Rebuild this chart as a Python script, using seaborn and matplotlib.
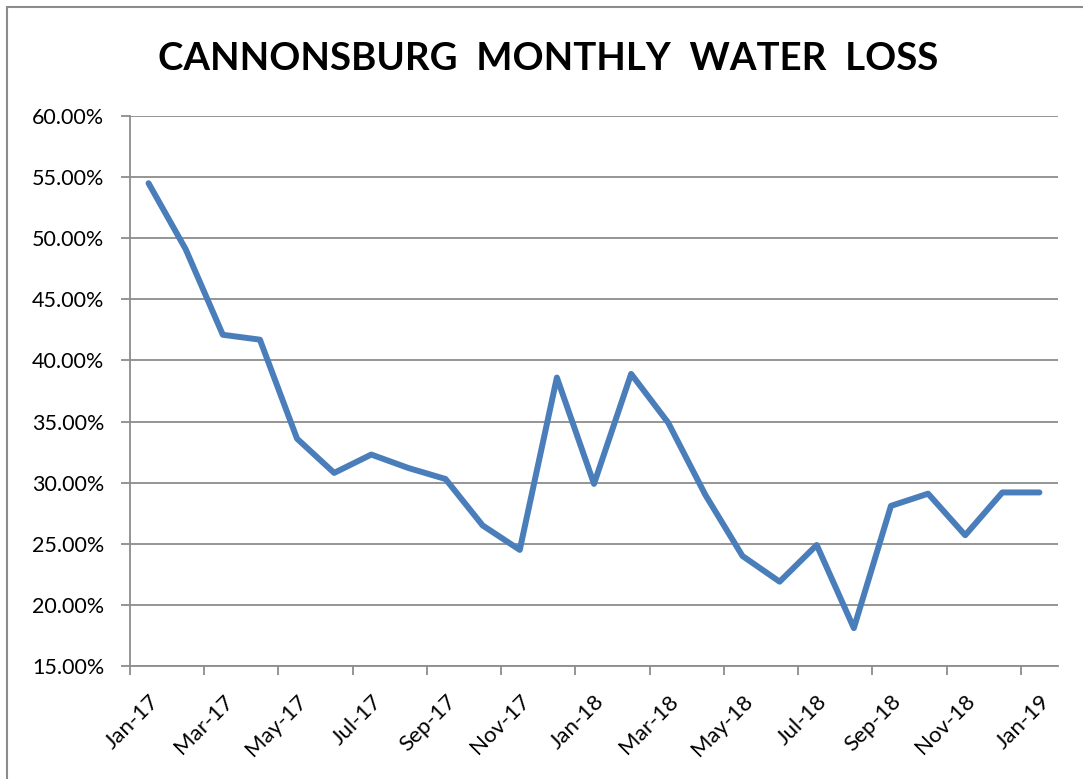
import matplotlib
matplotlib.use("Agg")
import matplotlib.pyplot as plt
import seaborn as sns
import pandas as pd
import numpy as np
from matplotlib.patches import Rectangle
from matplotlib.ticker import PercentFormatter, FixedLocator

months = ["Jan-17", "Feb-17", "Mar-17", "Apr-17", "May-17", "Jun-17", "Jul-17", "Aug-17",
          "Sep-17", "Oct-17", "Nov-17", "Dec-17", "Jan-18", "Feb-18", "Mar-18", "Apr-18",
          "May-18", "Jun-18", "Jul-18", "Aug-18", "Sep-18", "Oct-18", "Nov-18", "Dec-18",
          "Jan-19"]
water_loss = [54.5, 49.1, 42.1, 41.7, 33.6, 30.8, 32.3, 31.2, 30.3, 26.5, 24.5, 38.6,
              29.9, 38.9, 34.9, 29.0, 24.0, 21.9, 24.9, 18.1, 28.1, 29.1, 25.7, 29.2, 29.2]
y_ticks = [15, 20, 25, 30, 35, 40, 45, 50, 55, 60]
title = "CANNONSBURG  MONTHLY  WATER  LOSS"

sns.set_theme(style="white")
plt.rcParams['font.family'] = ['Lato', 'DejaVu Sans']

df = pd.DataFrame({"idx": np.arange(len(months)), "loss": water_loss})

fig = plt.figure(figsize=(10.83, 7.79), dpi=100)
ax = fig.add_axes([130/1083, 1 - 666/779, (1058 - 130)/1083, (666 - 116)/779])

sns.lineplot(data=df, x="idx", y="loss", ax=ax, color="#4A7EBB", linewidth=4.3,
             solid_joinstyle="round", solid_capstyle="round")

grid_c = "#8c8c8c"
ax.set_xlim(-0.5, len(months) - 0.5)
ax.set_ylim(15, 60)
ax.set_yticks(y_ticks)
ax.yaxis.set_major_formatter(PercentFormatter(decimals=2))
ax.yaxis.grid(True, color=grid_c, linewidth=1.3)
ax.set_axisbelow(True)

label_pos = list(range(0, len(months), 2))
ax.set_xticks(label_pos)
ax.set_xticklabels([months[i] for i in label_pos], rotation=45, ha="right",
                   rotation_mode="anchor", fontsize=16)
ax.xaxis.set_minor_locator(FixedLocator([p - 0.5 for p in label_pos]))
ax.tick_params(axis="x", which="major", length=0, pad=18)
ax.tick_params(axis="x", which="minor", length=6.5, width=1.3, color=grid_c, bottom=True)
ax.tick_params(axis="y", which="major", length=6.5, width=1.3, color=grid_c, left=True,
               labelsize=15.5, pad=12)

for s in ["top", "right"]:
    ax.spines[s].set_visible(False)
for s in ["left", "bottom"]:
    ax.spines[s].set_color(grid_c)
    ax.spines[s].set_linewidth(1.3)

ax.set_xlabel("")
ax.set_ylabel("")
for lab in ax.get_xticklabels() + ax.get_yticklabels():
    lab.set_color("black")

fig.text(0.506, 1 - 59/779, title, ha="center", va="center", fontsize=27.6,
         fontweight="bold", color="black")

fig.add_artist(Rectangle((7/1083, -0.1), 1.2, 1 - 7/779 + 0.1, transform=fig.transFigure,
                         fill=False, edgecolor="#8c8c8c", linewidth=1.5))

fig.savefig("out.png", dpi=100)
